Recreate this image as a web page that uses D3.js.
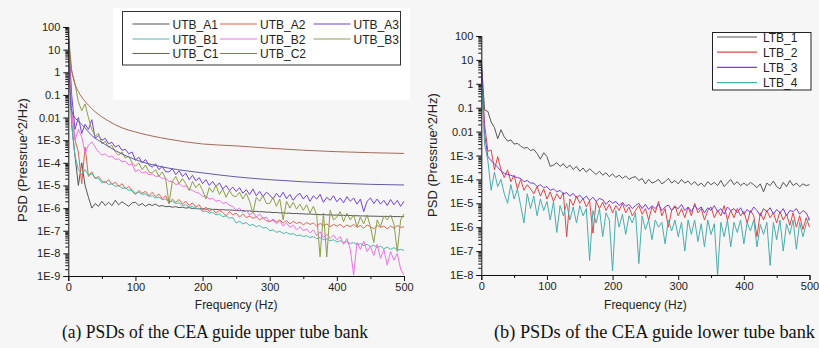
<!DOCTYPE html>
<html><head><meta charset="utf-8">
<script src="https://cdn.jsdelivr.net/npm/d3@7"></script>
<style>body{margin:0;background:#f6f6f6}svg{display:block}</style>
</head><body><svg id="c" width="819" height="348"></svg>
<script>
// ---------- DATA ----------
const freqs = d3.range(0, 501, 5); // 0..500 Hz, 5 Hz spacing

const utbA1 = [80,5e-3,2e-4,1e-5,1e-4,1e-5,3e-6,1e-6,1.6e-6,1.2e-6,
 2e-6,1.3e-6,1.8e-6,1.3e-6,2.2e-6,1.4e-6,1.9e-6,1.5e-6,1.2e-6,1.7e-6,
 1.8e-6,1.3e-6,1.6e-6,1.2e-6,1.5e-6,1.3e-6,1.5e-6,1.2e-6,1.3e-6,1.15e-6,
 1.2e-6,1.1e-6,1.15e-6,1.05e-6,1.1e-6,1e-6,1.05e-6,9.5e-7,1e-6,9.2e-7,
 9.5e-7,9e-7,9.3e-7,8.7e-7,8.9e-7,8.4e-7,8.6e-7,8.2e-7,8.3e-7,8e-7,
 8e-7,7.7e-7,7.8e-7,7.4e-7,7.5e-7,7.1e-7,7.2e-7,6.9e-7,6.9e-7,6.6e-7,
 6.6e-7,6.3e-7,6.4e-7,6.1e-7,6.2e-7,5.9e-7,6e-7,5.7e-7,5.8e-7,5.6e-7,
 5.6e-7,5.4e-7,5.5e-7,5.3e-7,5.3e-7,5.1e-7,5.2e-7,5e-7,5e-7,4.9e-7,
 4.9e-7,4.8e-7,4.8e-7,4.7e-7,4.7e-7,4.6e-7,4.6e-7,4.5e-7,4.5e-7,4.45e-7,
 4.4e-7,4.4e-7,4.35e-7,4.3e-7,4.3e-7,4.3e-7,4.25e-7,4.2e-7,4.2e-7,4.2e-7,
 4.2e-7];
const utbA2 = [30,0.02,1e-3,3e-4,1.2e-5,5e-4,2.5e-5,4e-5,2e-5,2.5e-5,
 1.6e-5,1.3e-5,1.8e-5,1.1e-5,1.4e-5,9e-6,1.2e-5,7e-6,9e-6,5.5e-6,
 4e-6,6e-6,4.5e-6,5.5e-6,3.5e-6,5e-6,3.2e-6,4.2e-6,2.6e-6,3.5e-6,
 1.6e-6,2.5e-6,1.8e-6,2.4e-6,1.5e-6,2e-6,1.3e-6,1.7e-6,1.1e-6,1.4e-6,
 8e-7,1.1e-6,7e-7,9e-7,6e-7,8e-7,6.5e-7,4.5e-7,7e-7,5e-7,
 6e-7,4e-7,5.5e-7,3.8e-7,4.5e-7,3.5e-7,4.2e-7,3e-7,3.8e-7,2.8e-7,
 2.5e-7,3.2e-7,2.4e-7,3e-7,2.2e-7,2.8e-7,2e-7,2.6e-7,2.1e-7,2.4e-7,
 1.8e-7,2.3e-7,1.9e-7,2.2e-7,1.6e-7,2.1e-7,1.7e-7,2e-7,1.5e-7,1.9e-7,
 1.6e-7,1.9e-7,1.4e-7,1.8e-7,1.5e-7,1.9e-7,1.4e-7,1.7e-7,1.3e-7,1.8e-7,
 1.5e-7,1.2e-7,1.7e-7,1.4e-7,1.6e-7,1.2e-7,1.6e-7,1.3e-7,1.7e-7,1.4e-7,
 1.5e-7];
const utbA3 = [50,0.1,3e-3,0.01,2e-3,5e-3,3e-3,8e-3,1.2e-3,1.6e-3,
 1e-3,1.2e-3,7e-4,8e-4,5e-4,6e-4,3.5e-4,4e-4,2.5e-4,3e-4,
 1.3e-4,1.8e-4,1e-4,1.4e-4,8e-5,6.5e-5,9e-5,5e-5,7e-5,4e-5,
 4e-5,5.5e-5,3e-5,4.5e-5,2.5e-5,3.5e-5,1.8e-5,2.8e-5,1.6e-5,2.2e-5,
 1.2e-5,1.8e-5,1e-5,1.5e-5,9e-6,1.3e-5,7e-6,1e-5,6e-6,8.5e-6,
 5.4e-6,8e-6,4.5e-6,6.5e-6,4e-6,7e-6,3.5e-6,5.5e-6,3.2e-6,5e-6,
 3.8e-6,2.5e-6,4.5e-6,3e-6,5e-6,2.6e-6,4e-6,2.2e-6,3.5e-6,4.5e-6,
 2.5e-6,3.8e-6,2e-6,3.5e-6,2.5e-6,4e-6,1.8e-6,3e-6,2.2e-6,3.5e-6,
 1.9e-6,2.8e-6,1.7e-6,3.2e-6,2e-6,2.8e-6,1.5e-6,2.5e-6,7e-7,2e-6,
 2.8e-6,1.6e-6,2.5e-6,1.5e-6,2.2e-6,1.3e-6,2.4e-6,1.4e-6,2.2e-6,1.2e-6,
 2e-6];
const utbB1 = [20,5e-3,2e-4,5e-5,3e-5,5e-5,2.8e-5,3.2e-5,2.2e-5,2e-5,
 1.3e-5,1.5e-5,1.1e-5,1.2e-5,9e-6,1e-5,7.5e-6,8e-6,6e-6,6.5e-6,
 4.5e-6,5e-6,4e-6,4.2e-6,3.3e-6,3.5e-6,2.8e-6,3e-6,2.4e-6,2.5e-6,
 1.9e-6,2e-6,1.6e-6,1.7e-6,1.3e-6,1.4e-6,1.1e-6,1.2e-6,9e-7,1e-6,
 7e-7,7.5e-7,6e-7,6.5e-7,5e-7,5.5e-7,4.2e-7,4.5e-7,3.6e-7,3.8e-7,
 2.2e-7,2.6e-7,2e-7,2.3e-7,1.7e-7,1.9e-7,1.5e-7,1.7e-7,1.3e-7,1.4e-7,
 1e-7,1.1e-7,8.5e-8,9.5e-8,7.5e-8,8.5e-8,7e-8,7.5e-8,6e-8,6.5e-8,
 5.6e-8,6e-8,5e-8,5.5e-8,4.5e-8,5e-8,4e-8,4.4e-8,3.6e-8,4e-8,
 3.2e-8,3.6e-8,3e-8,3.3e-8,2.7e-8,3e-8,2.4e-8,2.7e-8,2.2e-8,2.5e-8,
 2e-8,2.3e-8,1.8e-8,2.1e-8,1.6e-8,1.9e-8,1.5e-8,1.8e-8,1.4e-8,1.5e-8,
 1.35e-8];
const utbB2 = [40,0.02,1e-3,3e-3,1.4e-3,2.6e-4,6e-4,8.5e-4,5e-4,3e-4,
 2.2e-4,2.5e-4,1.8e-4,2e-4,1.4e-4,1.5e-4,1.1e-4,1.2e-4,8e-5,9e-5,
 4e-5,5e-5,3.5e-5,4e-5,3e-5,3.2e-5,2.5e-5,2.6e-5,2e-5,2.1e-5,
 1.5e-5,1.5e-5,1.1e-5,1.2e-5,9e-6,9.5e-6,7e-6,6e-6,5e-6,4.5e-6,
 3.2e-6,3.5e-6,2.5e-6,2.7e-6,2e-6,2.2e-6,1.6e-6,1.8e-6,1.3e-6,1.2e-6,
 8e-7,1e-6,6.5e-7,8e-7,5e-7,6.5e-7,4e-7,5.5e-7,3.5e-7,4e-7,
 2.5e-7,3e-7,2e-7,2.8e-7,1.6e-7,2.2e-7,1.4e-7,1.8e-7,1.1e-7,1.5e-7,
 1e-7,1.2e-7,8e-8,1.1e-7,6e-8,9e-8,5e-8,7e-8,4.5e-8,6.5e-8,
 4e-8,5.5e-8,2.5e-8,4.5e-8,1.5e-8,1.1e-9,3e-8,1.5e-8,3.5e-8,1.2e-8,
 2e-8,8e-9,2.5e-8,6e-9,1.5e-8,3e-9,1.2e-8,5e-9,1e-8,2e-9,
 1.1e-9];
const utbB3 = [60,1.2,0.3,0.05,0.02,0.04,0.01,3e-3,1.5e-3,2e-3,
 7e-4,9e-4,5e-4,6e-4,3e-4,2.2e-4,3e-4,1.6e-4,2e-4,1e-4,
 7e-5,1e-4,5e-5,8e-5,4e-5,3.5e-5,5e-5,2.5e-5,4e-5,2e-5,
 1.6e-6,1.5e-5,2.5e-5,1.2e-5,2e-5,1.2e-5,6e-6,1.5e-5,8e-6,1.2e-5,
 6e-6,2.5e-6,8e-6,5e-6,1e-5,4e-6,7e-6,3e-6,6e-6,3.5e-6,
 3.2e-6,5e-6,2.5e-6,4.5e-6,2e-6,6e-7,3e-6,2e-6,3.5e-6,1.6e-6,
 1.6e-6,3e-6,1.2e-6,2.5e-6,3e-7,2e-6,1e-6,1.8e-6,9e-7,1.5e-6,
 8e-7,1.4e-6,6e-7,1.2e-6,5e-7,7e-9,6e-7,7e-9,8e-7,3e-7,
 4e-7,7e-7,2.5e-7,6e-7,3e-7,5e-7,1.5e-7,4e-7,2e-7,5e-7,
 1.5e-7,3e-8,3e-7,1.5e-7,4.5e-7,3e-7,5e-7,2e-7,1.2e-8,3e-7,
 5.5e-7];
// smooth curves
const utbC1Freq = [0,2,4,8,15,25,35,50,70,90,120,150,200,250,300,350,400,450,500];
const utbC1 = [50,0.5,0.03,0.012,7e-3,3.5e-3,1.6e-3,8e-4,3.5e-4,1.8e-4,9e-5,5.8e-5,3.6e-5,2.4e-5,1.8e-5,1.45e-5,1.25e-5,1.12e-5,1.05e-5];
const utbC2Freq = [0,2,4,6,8,10,15,20,30,40,60,80,100,150,200,250,300,350,400,450,500];
const utbC2 = [60,8,2,0.8,0.5,0.3,0.14,0.08,0.035,0.018,7e-3,3.5e-3,2.3e-3,1.1e-3,6.8e-4,5.6e-4,4.4e-4,3.6e-4,3.1e-4,2.8e-4,2.6e-4];

const ltb1 = [10,0.08,0.07,0.025,0.015,5e-3,0.012,6e-3,4e-3,4.5e-3,
 3e-3,3.2e-3,2.5e-3,2e-3,2.2e-3,1.6e-3,1.8e-3,1.2e-3,7e-4,1.3e-3,
 9e-4,3.5e-4,4e-4,5e-4,3.5e-4,4.5e-4,3e-4,4e-4,2.6e-4,3.5e-4,
 2.2e-4,3e-4,2e-4,2.8e-4,2.1e-4,1.6e-4,2.2e-4,1.5e-4,1.9e-4,1.3e-4,
 1.7e-4,1.2e-4,1.5e-4,1.1e-4,1.4e-4,1e-4,1.2e-4,1.3e-4,9e-5,1.1e-4,
 6.5e-5,1e-4,7e-5,8e-5,1e-4,6.5e-5,8e-5,1.1e-4,7e-5,9e-5,
 6.5e-5,1e-4,7e-5,8.5e-5,6e-5,8e-5,5.5e-5,7e-5,5e-5,8e-5,
 6e-5,7.5e-5,5.5e-5,9e-5,5e-5,7e-5,1e-4,6e-5,8e-5,5.5e-5,
 7e-5,5.5e-5,7.5e-5,6e-5,4.5e-5,6.5e-5,3e-5,7e-5,5.5e-5,8.5e-5,
 5e-5,4e-5,7.5e-5,5e-5,9e-5,5.5e-5,7e-5,5e-5,6.5e-5,5.5e-5,
 6e-5];
const ltb2 = [5,0.02,1.5e-3,1.7e-3,2.5e-4,9e-4,2.5e-4,1.2e-4,2.5e-4,8e-5,
 1.5e-4,4e-5,1e-4,3.5e-5,6e-5,4e-5,2.5e-5,5e-5,2e-5,4e-5,
 1.5e-5,3e-5,1.2e-5,2.5e-5,1.5e-5,2.8e-5,4e-7,1.5e-5,8e-6,2e-5,
 1e-5,1.6e-5,7e-6,1.3e-5,5.6e-7,1.2e-5,6e-6,1.1e-5,5e-6,9e-6,
 4e-6,8e-6,5e-6,1e-5,4e-6,7e-6,3e-6,5e-6,8e-6,3.5e-6,
 6e-6,2e-6,7e-6,4e-6,1.2e-5,3e-6,6e-6,1e-6,5e-6,8e-6,
 3e-6,6e-6,2.5e-6,7e-6,3e-6,1e-5,4e-6,6e-6,2e-6,5e-6,
 7e-6,2.5e-6,5e-6,3e-6,8e-6,2e-6,5e-6,2.5e-6,6e-6,3e-6,
 4.5e-6,1.5e-6,5e-6,3e-6,4e-7,4e-6,2e-6,5e-6,2.5e-6,4e-6,
 1.5e-6,4.5e-6,2e-6,3.5e-6,1.2e-6,4e-6,1e-6,3e-6,8e-7,2.5e-6,
 1e-6];
const ltb3 = [8,8e-3,9e-4,6e-4,4.5e-4,3.2e-4,2.2e-4,1.8e-4,1.6e-4,1.5e-4,
 1.3e-4,1.2e-4,1.1e-4,8e-5,9e-5,7e-5,7e-5,5e-5,6e-5,4.5e-5,
 5e-5,3.5e-5,4e-5,3e-5,3.5e-5,2.5e-5,2.8e-5,2e-5,2.6e-5,1.7e-5,
 2.2e-5,1.5e-5,2e-5,1.3e-5,1.8e-5,1.2e-5,1.6e-5,1.4e-5,9e-6,1.3e-5,
 1e-5,1.2e-5,8e-6,1.1e-5,7.5e-6,9e-6,6e-6,8e-6,1e-5,6e-6,
 9e-6,5.5e-6,8e-6,6e-6,9e-6,5e-6,7e-6,8.5e-6,5e-6,7e-6,
 6e-6,9e-6,5e-6,7e-6,4.5e-6,8e-6,5.5e-6,7e-6,4e-6,6.5e-6,
 5e-6,8e-6,4.5e-6,6e-6,3.5e-6,7e-6,5e-6,6e-6,4e-6,6.5e-6,
 3.5e-6,5.5e-6,4e-6,7e-6,5e-6,3e-6,6e-6,4.5e-6,6.5e-6,3.5e-6,
 5.5e-6,4e-6,6e-6,3e-6,5e-6,4.5e-6,6e-6,3.5e-6,5e-6,4e-6,
 2e-6];
const ltb4 = [3,3e-3,6e-4,3.5e-5,2e-4,5e-5,1e-4,2.5e-5,1e-5,6e-5,
 1.5e-5,4e-5,8e-6,1.5e-6,2.5e-5,6e-6,2e-5,3e-6,1.5e-5,5e-6,
 1.2e-5,2e-6,1.2e-5,6e-7,8e-6,3e-6,1e-5,2e-6,7e-6,1.5e-6,
 8e-6,3e-6,6e-6,4e-8,5e-6,1.5e-6,6e-6,4e-7,4e-6,2e-6,
 1.5e-8,5e-6,1e-6,3.5e-6,5e-7,3e-6,1.5e-6,4e-6,3e-8,3e-6,
 8e-7,2e-6,3e-7,2e-6,1e-6,1.6e-6,2e-7,2e-6,7e-7,2e-6,
 4e-7,1.6e-6,1e-7,2e-6,5e-7,2e-6,2.5e-7,1.4e-6,1.5e-7,2e-6,
 5e-7,1.4e-6,1e-8,1.6e-6,4e-7,2e-6,1.5e-7,1.6e-6,6e-7,2e-6,
 2e-7,1.6e-6,7e-7,2e-6,1.5e-7,1.3e-6,5e-7,1.6e-6,2.5e-8,1.6e-6,
 3e-7,2e-6,1e-7,1.4e-6,5e-7,2e-6,1.2e-7,1.6e-6,4e-7,1.4e-6,
 2.5e-6];

const leftYTicks  = [100,10,1,0.1,0.01,1e-3,1e-4,1e-5,1e-6,1e-7,1e-8,1e-9];
const leftYLabels = ["100","10","1","0.1","0.01","1E-3","1E-4","1E-5","1E-6","1E-7","1E-8","1E-9"];
const rightYTicks  = [100,10,1,0.1,0.01,1e-3,1e-4,1e-5,1e-6,1e-7,1e-8];
const rightYLabels = ["100","10","1","0.1","0.01","1E-3","1E-4","1E-5","1E-6","1E-7","1E-8"];
const xTicks = [0,100,200,300,400,500];
const xMinorTicks = [50,150,250,350,450];

const leftSeries = [
  {name:"UTB_A1", f:freqs, v:utbA1, color:"#555555"},
  {name:"UTB_A2", f:freqs, v:utbA2, color:"#e0634f"},
  {name:"UTB_A3", f:freqs, v:utbA3, color:"#7043d8"},
  {name:"UTB_B1", f:freqs, v:utbB1, color:"#52b3a9"},
  {name:"UTB_B2", f:freqs, v:utbB2, color:"#f070e6"},
  {name:"UTB_B3", f:freqs, v:utbB3, color:"#8c9d4a"},
  {name:"UTB_C1", f:utbC1Freq, v:utbC1, color:"#5f5ca2", smooth:true},
  {name:"UTB_C2", f:utbC2Freq, v:utbC2, color:"#a46a58", smooth:true}
];
const rightSeries = [
  {name:"LTB_1", f:freqs, v:ltb1, color:"#555555"},
  {name:"LTB_2", f:freqs, v:ltb2, color:"#e44444"},
  {name:"LTB_3", f:freqs, v:ltb3, color:"#7a3ce0"},
  {name:"LTB_4", f:freqs, v:ltb4, color:"#4aacac"}
];

// ---------- DRAW ----------
const svg = d3.select("#c");
svg.append("rect").attr("width",819).attr("height",348).attr("fill","#f6f6f6");
svg.append("rect").attr("x",113).attr("y",8).attr("width",297).attr("height",92).attr("fill","#ffffff");

const sans = "'Liberation Sans', Arial, sans-serif";

function panel(cfg){
  const g = svg.append("g");
  const x = d3.scaleLinear().domain([0,500]).range([cfg.x0, cfg.x1]);
  const y = d3.scaleLog().domain([cfg.ymin, 100]).range([cfg.yb, cfg.yt]);
  const id = "clip"+cfg.id;
  svg.append("clipPath").attr("id",id).append("rect")
    .attr("x",cfg.x0).attr("y",cfg.yt-2).attr("width",cfg.x1-cfg.x0+1).attr("height",cfg.yb-cfg.yt+2);
  const lines = g.append("g").attr("clip-path",`url(#${id})`);
  cfg.series.forEach(s=>{
    const pts = s.f.map((f,i)=>[f,s.v[i]]);
    const ln = d3.line().x(d=>x(d[0])).y(d=>y(d[1]));
    if (s.smooth) ln.curve(d3.curveMonotoneX);
    lines.append("path").attr("d",ln(pts)).attr("fill","none")
      .attr("stroke",s.color).attr("stroke-width",1).attr("stroke-linejoin","round");
  });
  const minors = [];
  cfg.yTicks.forEach(t=>{ if (t < 100) for (let k=2;k<=9;k++) minors.push(t*k); });
  const yMinor = d3.axisLeft(y).tickValues(minors).tickSize(3).tickFormat("");
  g.append("g").attr("transform",`translate(${cfg.x0},0)`).call(yMinor)
    .call(a=>a.select(".domain").remove());
  const yAxis = d3.axisLeft(y).tickValues(cfg.yTicks).tickSize(5).tickPadding(3)
    .tickFormat((d,i)=>cfg.yLabels[i]);
  const ya = g.append("g").attr("transform",`translate(${cfg.x0},0)`).call(yAxis);
  ya.selectAll("text").attr("font-family",sans).attr("font-size",11).attr("fill","#222");
  const xMinor = d3.axisBottom(x).tickValues(xMinorTicks).tickSize(3).tickFormat("");
  g.append("g").attr("transform",`translate(0,${cfg.yb})`).call(xMinor)
    .call(a=>a.select(".domain").remove());
  const xAxis = d3.axisBottom(x).tickValues(xTicks).tickSize(5).tickPadding(2).tickFormat(d3.format("d"));
  const xa = g.append("g").attr("transform",`translate(0,${cfg.yb})`).call(xAxis);
  xa.selectAll("text").attr("font-family",sans).attr("font-size",11).attr("fill","#222");
  g.selectAll(".domain, .tick line").attr("stroke","#111");
  g.append("text").attr("x",(cfg.x0+cfg.x1)/2).attr("y",309).attr("text-anchor","middle")
    .attr("font-family",sans).attr("font-size",12).attr("fill","#222").text("Frequency (Hz)");
  g.append("text").attr("transform",`translate(${cfg.ylabX},${cfg.ylabY}) rotate(-90)`)
    .attr("text-anchor","middle").attr("font-family",sans).attr("font-size",13).attr("fill","#222")
    .text("PSD (Pressrue^2/Hz)");
  g.append("text").attr("x",cfg.capX).attr("y",338).attr("font-family","'Liberation Serif','Times New Roman',serif")
    .attr("font-size",18.5).attr("fill","#111").attr("textLength",cfg.capW).attr("lengthAdjust","spacingAndGlyphs")
    .text(cfg.caption);
  return g;
}

panel({id:"L", x0:68.3, x1:404, yt:27, yb:276, ymin:1e-9, yTicks:leftYTicks, yLabels:leftYLabels,
  series:leftSeries, ylabX:27, ylabY:160, capX:62, capW:306,
  caption:"(a) PSDs of the CEA guide upper tube bank"});
panel({id:"R", x0:481.3, x1:809.5, yt:36, yb:275, ymin:1e-8, yTicks:rightYTicks, yLabels:rightYLabels,
  series:rightSeries, ylabX:437, ylabY:155, capX:494, capW:321,
  caption:"(b) PSDs of the CEA guide lower tube bank"});

// legends
const lg = svg.append("g");
lg.append("rect").attr("x",122.5).attr("y",11.5).attr("width",278).attr("height",53.5)
  .attr("fill","#fff").attr("stroke","#333").attr("stroke-width",1);
const colX = [132.5, 220, 313.5], rowY = [24, 39, 53.5];
leftSeries.forEach((s,i)=>{
  const c = i%3, r = Math.floor(i/3);
  lg.append("line").attr("x1",colX[c]).attr("x2",colX[c]+37).attr("y1",rowY[r]).attr("y2",rowY[r])
    .attr("stroke",s.color).attr("stroke-width",1.2);
  lg.append("text").attr("x",colX[c]+40).attr("y",rowY[r]+4.5).attr("font-family",sans)
    .attr("font-size",12).attr("fill","#222").text(s.name);
});
const rg = svg.append("g");
rg.append("rect").attr("x",712.5).attr("y",32.5).attr("width",98.5).attr("height",57.5)
  .attr("fill","#fff").attr("stroke","#222").attr("stroke-width",1);
rightSeries.forEach((s,i)=>{
  const yy = 37 + i*15.2;
  rg.append("line").attr("x1",717).attr("x2",757).attr("y1",yy).attr("y2",yy)
    .attr("stroke",s.color).attr("stroke-width",1.2);
  rg.append("text").attr("x",763).attr("y",yy+4.5).attr("font-family",sans)
    .attr("font-size",12).attr("fill","#222").text(s.name);
});
</script></body></html>
